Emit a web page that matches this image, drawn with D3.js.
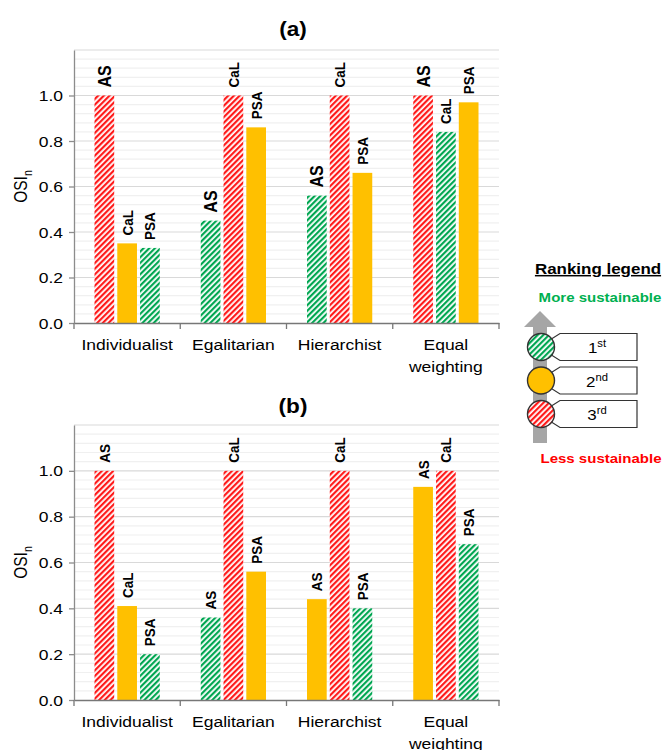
<!DOCTYPE html>
<html><head><meta charset="utf-8">
<script src="https://cdn.jsdelivr.net/npm/d3@7"></script>
<style>html,body{margin:0;padding:0;background:#fff;} svg{display:block;}</style>
</head><body>
<svg id="c" width="667" height="750"></svg>
<script>
// ---- data ----
const categories = ["Individualist", "Egalitarian", "Hierarchist", "Equal weighting"];
const seriesNames = ["AS", "CaL", "PSA"];
// panel (a)
const asA  = [1.00, 0.45, 0.56, 1.00];
const calA = [0.35, 1.00, 1.00, 0.84];
const psaA = [0.33, 0.86, 0.66, 0.97];
const rankAsA  = [3, 1, 1, 3];
const rankCalA = [2, 3, 3, 1];
const rankPsaA = [1, 2, 2, 2];
// panel (b)
const asB  = [1.00, 0.36, 0.44, 0.93];
const calB = [0.41, 1.00, 1.00, 1.00];
const psaB = [0.20, 0.56, 0.40, 0.68];
const rankAsB  = [3, 1, 2, 2];
const rankCalB = [2, 3, 3, 3];
const rankPsaB = [1, 2, 1, 1];
const yTicks = [0, 0.2, 0.4, 0.6, 0.8, 1.0];
const legendRanks = ["1", "2", "3"];
const legendSup = ["st", "nd", "rd"];

// ---- drawing ----
const SX = 1.13;
const FONT = "Liberation Sans, Arial, Helvetica, sans-serif";
const svg = d3.select("#c");
const defs = svg.append("defs");
function hatch(id, color) {
  const p = defs.append("pattern").attr("id", id).attr("patternUnits", "userSpaceOnUse")
    .attr("width", 4).attr("height", 4).attr("patternTransform", "rotate(45)");
  p.append("rect").attr("width", 4).attr("height", 4).attr("fill", "#fff");
  p.append("rect").attr("width", 2.2).attr("height", 4).attr("fill", color);
}
hatch("hGreen", "#00a651");
hatch("hRed", "#ff1a1a");
const rankFill = {1: "url(#hGreen)", 2: "#ffc000", 3: "url(#hRed)"};

function T(parent, x, y, str, o) {
  o = o || {};
  const g = parent.append("g").attr("transform",
    `translate(${x},${y}) scale(${SX},1)` + (o.rot ? " rotate(-90)" : ""));
  const t = g.append("text").attr("font-family", FONT).attr("font-size", o.size || 15)
    .attr("font-weight", o.bold ? "bold" : "normal")
    .attr("text-anchor", o.anchor || "middle").attr("fill", o.fill || "#000");
  if (str !== null) t.text(str);
  return t;
}

const left = 74, right = 499;
const x0 = d3.scaleBand().domain(categories).range([left, right]);
const x1 = d3.scaleBand().domain(seriesNames).range([0, x0.bandwidth()])
  .paddingInner(0.135).paddingOuter(0.9);

function panel(top, bottom, title, titleY, vals, ranks, asBig) {
  const y = d3.scaleLinear().domain([0, 1.2]).range([bottom, top]);
  const g = svg.append("g");
  // gridlines
  const minor = d3.range(0, 61).map(i => i * 0.04).filter(v => v <= 1.2001 && v > 0);
  g.selectAll(".mn").data(minor).enter().append("line")
    .attr("x1", left).attr("x2", right).attr("y1", d => y(d)).attr("y2", d => y(d))
    .attr("stroke", d => (Math.abs(d * 5 - Math.round(d * 5)) < 1e-6) ? "#d9d9d9" : "#f0f0f0")
    .attr("stroke-width", 1.2);
  // bars
  categories.forEach((c, ci) => {
    seriesNames.forEach((s, si) => {
      const v = vals[si][ci], r = ranks[si][ci];
      const bx = x0(c) + x1(s), bw = x1.bandwidth();
      g.append("rect").attr("x", bx).attr("y", y(v)).attr("width", bw)
        .attr("height", y(0) - y(v)).attr("fill", rankFill[r]);
      const fs = (asBig && s === "AS") ? 16 : 13.5;
      T(g, bx + bw / 2 + 0.36 * fs * SX, y(v) - 8, s, {size: fs, bold: true, rot: true, anchor: "start"});
    });
  });
  // y axis
  const ya = g.append("g").attr("transform", `translate(${left},0)`)
    .call(d3.axisLeft(y).tickValues(yTicks).tickFormat("").tickSize(5).tickSizeOuter(0));
  ya.select(".domain").attr("stroke", "#8c8c8c").attr("stroke-width", 1.3);
  ya.selectAll(".tick line").attr("stroke", "#8c8c8c").attr("stroke-width", 1.3);
  yTicks.forEach(v => T(g, 63, y(v) + 5.5, d3.format(".1f")(v), {size: 15.5, anchor: "end"}));
  // x axis
  const xa = g.append("g").attr("transform", `translate(0,${bottom})`)
    .call(d3.axisBottom(x0).tickSize(0).tickFormat(""));
  xa.select(".domain").attr("stroke", "#777").attr("stroke-width", 1.5);
  const bounds = categories.map(c => x0(c)).concat([x0.range()[1]]);
  g.selectAll(".xt").data(bounds).enter().append("line")
    .attr("x1", d => d).attr("x2", d => d).attr("y1", bottom).attr("y2", bottom + 6)
    .attr("stroke", "#777").attr("stroke-width", 1.3);
  categories.forEach(c => {
    const cx = x0(c) + x0.bandwidth() / 2;
    const parts = c === "Equal weighting" ? ["Equal", "weighting"] : [c];
    parts.forEach((p, i) => T(g, cx, bottom + 27 + i * 21.5, p, {size: 15.5}));
  });
  // y label
  const yl = T(g, 27, (top + bottom) / 2, null, {size: 15.5, rot: true});
  yl.append("tspan").text("OSI");
  yl.append("tspan").attr("font-size", 10.5).attr("dy", 4).text("n");
  // title
  T(g, 293, titleY, title, {size: 20, bold: true});
}

panel(50, 323, "(a)", 36, [asA, calA, psaA], [rankAsA, rankCalA, rankPsaA], true);
panel(425, 700, "(b)", 413, [asB, calB, psaB], [rankAsB, rankCalB, rankPsaB], false);

// ---- ranking legend ----
const lg = svg.append("g");
const lt = T(lg, 598, 274, "Ranking legend", {size: 15, bold: true});
lt.attr("text-decoration", "underline");
T(lg, 600, 302, "More sustainable", {size: 13.3, bold: true, fill: "#00b050"});
T(lg, 601, 463, "Less sustainable", {size: 13.3, bold: true, fill: "#ff0000"});
// arrow
lg.append("rect").attr("x", 533).attr("y", 326).attr("width", 14).attr("height", 117).attr("fill", "#a6a6a6");
lg.append("path").attr("d", "M524,327 L556,327 L540,311 Z").attr("fill", "#a6a6a6");
const rowY = d3.scalePoint().domain(legendRanks).range([347, 414]);
legendRanks.forEach((r, i) => {
  const cy = rowY(r);
  lg.append("path")
    .attr("d", `M545,${cy - 4} L560,${cy - 13.5} L637,${cy - 13.5} L637,${cy + 13.5} L560,${cy + 13.5} L545,${cy + 4} Z`)
    .attr("fill", "#fff").attr("stroke", "#333").attr("stroke-width", 1.2);
  lg.append("circle").attr("cx", 541).attr("cy", cy).attr("r", 13.5)
    .attr("fill", rankFill[+r]).attr("stroke", "#333").attr("stroke-width", 1.4);
  const t = T(lg, 597, cy + 6, null, {size: 15});
  t.append("tspan").text(r);
  t.append("tspan").attr("font-size", 10).attr("dy", -6).text(legendSup[i]);
});
</script>
</body></html>
